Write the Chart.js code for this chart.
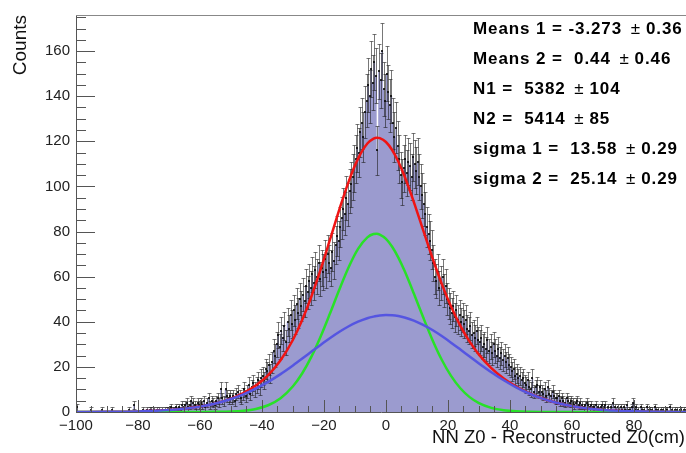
<!DOCTYPE html>
<html><head><meta charset="utf-8">
<script src="https://cdn.jsdelivr.net/npm/chart.js@4.4.1/dist/chart.umd.min.js"></script>
<style>html,body{margin:0;padding:0;background:#fff;overflow:hidden}canvas{display:block}</style>
</head><body>
<canvas id="c" width="686" height="453"></canvas>
<script>
// histogram: bins of 0.5 cm starting at -100
const binStart = -100;
const binWidth = 0.5;
const counts = [
  2,0,0,0,0,0,0,0,0,1,
  0,0,0,0,0,0,1,0,0,0,
  0,0,0,1,0,0,0,0,0,0,
  0,0,0,0,1,0,0,3,0,0,
  0,0,0,1,0,1,0,1,1,0,
  1,0,1,1,0,1,0,1,1,1,
  1,2,1,1,2,1,2,1,3,2,
  3,4,2,3,5,4,3,2,4,3,
  4,3,5,2,4,6,3,5,4,3,
  5,6,4,10,6,5,10,7,6,7,
  6,7,5,8,9,7,6,8,10,7,
  9,12,8,11,13,10,12,14,11,15,
  16,14,19,18,21,17,22,27,25,30,
  34,29,36,33,38,31,40,37,43,39,
  45,41,48,44,50,47,52,49,56,53,
  58,55,61,57,63,60,66,59,64,62,
  68,63,70,66,64,71,67,74,78,76,
  82,86,90,88,95,92,98,101,104,108,
  112,117,115,124,128,122,133,138,145,140,
  152,146,155,149,116,151,147,160,143,138,
  150,142,136,140,128,122,126,118,112,105,
  102,108,112,106,111,109,104,113,110,107,
  111,104,100,96,92,88,82,79,76,72,
  66,60,58,62,55,57,60,54,56,50,
  48,46,44,47,42,45,41,43,40,42,
  39,41,37,36,38,34,35,33,36,32,
  31,33,29,30,28,32,27,29,26,30,
  27,25,28,24,26,23,25,22,24,21,
  20,18,19,16,17,15,16,14,15,13,
  12,14,11,10,15,9,11,12,9,11,
  9,8,10,7,11,8,7,9,7,6,
  6,7,5,6,5,4,6,5,4,5,
  4,3,4,5,3,4,3,2,3,4,
  3,2,3,2,2,3,2,1,2,3,
  2,3,1,2,1,2,4,2,1,2,
  1,2,1,2,1,3,1,1,2,4,
  1,2,1,0,2,1,1,0,2,1,
  1,1,0,2,1,1,0,1,1,0,
  1,1,0,2,1,0,1,1,0,1,
  1,0,1,1
];

// fitted curves, sampled positions (cm) and values (counts)
const curveX    = [-100,-90,-80,-70,-65,-60,-55,-50,-46,-42,-38,-34,-30,-27,-24,-21,-18,-15,-12,-9,-6,-4,-3,-2,0,2,4,6,9,12,15,18,21,24,27,30,34,38,42,46,50,55,60,65,70,80,90,97];
const fitTotal  = [0.02,0.07,0.26,0.85,1.45,2.40,3.84,5.95,8.37,11.70,16.35,22.91,32.03,40.85,51.42,63.55,76.70,89.98,102.27,112.31,119.00,121.18,121.6,121.41,119.69,116.14,110.98,104.49,93.05,80.62,68.28,56.82,46.74,38.21,31.18,25.45,19.46,14.85,11.26,8.42,6.19,4.09,2.60,1.59,0.94,0.29,0.08,0.02];
const fitNarrow = [0,0,0,0,0,0.01,0.06,0.21,0.56,1.36,3.00,6.11,11.39,17.18,24.64,33.70,43.89,54.42,64.26,72.28,77.43,78.89,79.0,78.65,76.74,73.26,68.45,62.57,52.51,41.97,31.95,23.16,15.99,10.52,6.59,3.93,1.83,0.78,0.30,0.11,0.04,0.01,0,0,0,0,0,0];
const fitWide   = [0.02,0.07,0.26,0.85,1.45,2.39,3.78,5.74,7.81,10.34,13.35,16.80,20.64,23.67,26.78,29.85,32.81,35.56,38.01,40.03,41.57,42.29,42.56,42.76,42.95,42.88,42.53,41.92,40.54,38.65,36.33,33.66,30.75,27.69,24.59,21.52,17.63,14.07,10.96,8.31,6.15,4.08,2.60,1.59,0.94,0.29,0.08,0.02];

const xTicks = [-100,-80,-60,-40,-20,0,20,40,60,80];
const yTicks = [0,20,40,60,80,100,120,140,160];
const xTitle = 'NN Z0 - Reconstructed Z0(cm)';
const yTitle = 'Counts';
const statLabels = ['Means 1 = -3.273', 'Means 2 =  0.44', 'N1 =  5382', 'N2 =  5414', 'sigma 1 =  13.58', 'sigma 2 =  25.14'];
const statErrors = ['0.36', '0.46', '104', '85', '0.29', '0.29'];

const FONT = "'Liberation Sans', Arial, Helvetica, sans-serif";

const histPts = counts.map((v, i) => ({x: binStart + i * binWidth, y: v}));
histPts.push({x: binStart + counts.length * binWidth, y: counts[counts.length - 1]});
const curve = arr => curveX.map((x, i) => ({x: x, y: arr[i]}));

const errPlugin = {
  id: 'errbars',
  afterDatasetDraw(chart, args) {
    if (args.index !== 0) return;
    const {ctx, chartArea: a, scales: {x, y}} = chart;
    ctx.save();
    ctx.beginPath(); ctx.rect(a.left, a.top, a.right - a.left, a.bottom - a.top); ctx.clip();
    ctx.strokeStyle = 'rgba(30,30,30,0.6)';
    ctx.lineWidth = 1;
    ctx.beginPath();
    counts.forEach((v, i) => {
      if (v <= 0) return;
      const px = Math.round(x.getPixelForValue(binStart + (i + 0.5) * binWidth)) + 0.5;
      const e = Math.sqrt(v);
      const yt = Math.round(y.getPixelForValue(v + e)) + 0.5;
      const yb = Math.round(y.getPixelForValue(Math.max(0, v - e))) + 0.5;
      ctx.moveTo(px, yt); ctx.lineTo(px, yb);
      ctx.moveTo(px - 2, yt); ctx.lineTo(px + 2, yt);
      ctx.moveTo(px - 2, yb); ctx.lineTo(px + 2, yb);
    });
    ctx.stroke();
    ctx.fillStyle = 'rgba(10,10,10,0.85)';
    counts.forEach((v, i) => {
      if (v <= 0) return;
      const px = Math.round(x.getPixelForValue(binStart + (i + 0.5) * binWidth));
      const py = Math.round(y.getPixelForValue(v));
      ctx.fillRect(px - 1, py - 1, 2, 2);
    });
    ctx.restore();
  }
};

const framePlugin = {
  id: 'frame',
  afterDraw(chart) {
    const {ctx, chartArea: a, scales: {x, y}} = chart;
    ctx.save();
    ctx.strokeStyle = '#555';
    ctx.lineWidth = 1;
    ctx.beginPath();
    for (let v = 0; v <= 175; v += 5) {
      const py = Math.round(y.getPixelForValue(v)) + 0.5;
      const len = (v % 20 === 0) ? 19 : 10;
      ctx.moveTo(a.left, py); ctx.lineTo(a.left + len, py);
    }
    for (let v = -100; v <= 95; v += 5) {
      const px = Math.round(x.getPixelForValue(v)) + 0.5;
      const len = (v % 20 === 0) ? 12 : 6;
      ctx.moveTo(px, a.bottom); ctx.lineTo(px, a.bottom - len);
    }
    ctx.stroke();
    ctx.strokeStyle = '#888';
    ctx.beginPath();
    ctx.moveTo(a.left, a.top + 0.5); ctx.lineTo(a.right, a.top + 0.5);
    ctx.stroke();

    // axis titles
    ctx.fillStyle = '#111';
    ctx.textBaseline = 'middle';
    ctx.font = '18.5px ' + FONT;
    ctx.textAlign = 'right';
    ctx.fillText(xTitle, 685, 438);
    ctx.save();
    ctx.translate(21, a.top);
    ctx.rotate(-Math.PI / 2);
    ctx.font = '19px ' + FONT;
    ctx.textAlign = 'right';
    ctx.fillText(yTitle, 0, 0);
    ctx.restore();

    // fit results text
    ctx.fillStyle = '#000';
    ctx.textAlign = 'left';
    ctx.textBaseline = 'middle';
    if ('letterSpacing' in ctx) ctx.letterSpacing = '0.9px';
    const bold = 'bold 17px ' + FONT, thin = '17px ' + FONT;
    statLabels.forEach((s, i) => {
      const ty = 29 + i * 30;
      let tx = 473;
      ctx.font = bold; ctx.fillText(s + ' ', tx, ty); tx += ctx.measureText(s + ' ').width + 3;
      ctx.font = thin; ctx.fillText('\u00B1', tx, ty); tx += ctx.measureText('\u00B1').width + 5;
      ctx.font = bold; ctx.fillText(statErrors[i], tx, ty);
    });
    ctx.restore();
  }
};

const fmt = v => (v < 0 ? '\u2212' + Math.abs(v) : String(v));

new Chart(document.getElementById('c'), {
  type: 'line',
  data: {
    datasets: [
      {label: 'hist', data: histPts, stepped: true, fill: 'origin', backgroundColor: 'rgb(155,155,207)', borderWidth: 0, borderColor: 'rgba(0,0,0,0)', pointRadius: 0, order: 10},
      {label: 'wide', data: curve(fitWide), borderColor: 'rgb(85,85,225)', borderWidth: 2.5, pointRadius: 0, cubicInterpolationMode: 'monotone', fill: false, order: 1},
      {label: 'narrow', data: curve(fitNarrow), borderColor: 'rgb(40,225,40)', borderWidth: 2.5, pointRadius: 0, cubicInterpolationMode: 'monotone', fill: false, order: 2},
      {label: 'total', data: curve(fitTotal), borderColor: 'rgb(240,20,20)', borderWidth: 2.5, pointRadius: 0, cubicInterpolationMode: 'monotone', fill: false, order: 3}
    ]
  },
  options: {
    responsive: false,
    animation: false,
    devicePixelRatio: 1,
    layout: {padding: {top: 12, left: 0, right: 0, bottom: 0}},
    plugins: {legend: {display: false}, tooltip: {enabled: false}},
    scales: {
      x: {
        type: 'linear', min: -100, max: 96.8,
        afterBuildTicks: s => { s.ticks = xTicks.map(v => ({value: v})); },
        afterFit: s => { s.height = 41; },
        grid: {display: false, drawTicks: false},
        border: {display: true, color: '#555', width: 1},
        ticks: {font: {family: FONT, size: 15}, color: '#222', padding: 5, maxRotation: 0, autoSkip: false, callback: v => fmt(v)},
        title: {display: false}
      },
      y: {
        type: 'linear', min: 0, max: 176,
        afterBuildTicks: s => { s.ticks = yTicks.map(v => ({value: v})); },
        afterFit: s => { s.width = 76; },
        grid: {display: false, drawTicks: false},
        border: {display: true, color: '#555', width: 1},
        ticks: {font: {family: FONT, size: 15}, color: '#222', padding: 6, autoSkip: false, callback: v => fmt(v)},
        title: {display: false}
      }
    }
  },
  plugins: [errPlugin, framePlugin]
});
</script>
</body></html>
